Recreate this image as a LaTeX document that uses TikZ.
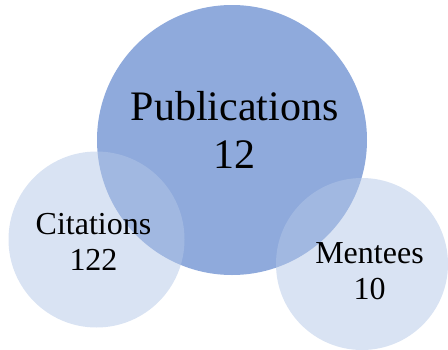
\documentclass[tikz,border=0pt]{standalone}
\usepackage{fontspec}
\setmainfont{Liberation Serif}
\usepackage{xcolor}
\usepackage{tikz}
\usetikzlibrary{positioning}
\definecolor{pubblue}{RGB}{143,170,220}
\definecolor{paleblue}{RGB}{180,199,231}
\tikzstyle{bubble}=[circle, draw=none, inner sep=0pt]
\tikzstyle{bigtext}=[align=center, inner sep=0pt, text=black,
        font=\fontsize{42}{48}\selectfont]
\tikzstyle{smalltext}=[align=center, inner sep=0pt, text=black,
        font=\fontsize{32}{36}\selectfont]

\begin{document}
\begin{tikzpicture}[x=1pt, y=-1pt]
      \useasboundingbox (0,0) rectangle (448,349);
      \node (Publications) [bubble, fill=pubblue, minimum size=270pt] at (232,140) {};
      \node (Citations) [bubble, fill=paleblue, fill opacity=0.5, minimum size=176pt] at (96.5,239.5) {};
      \node (Mentees) [bubble, fill=paleblue, fill opacity=0.5, minimum size=172pt] at (362,264) {};
      \node (PublicationsText) [bigtext] at ([xshift=2.5pt, yshift=10pt]Publications.center)
      {
        Publications \\ 12
      };
      \node (CitationsText) [smalltext] at ([xshift=-3pt, yshift=-2.5pt]Citations.center)
      {
        Citations \\ 122
      };
      \node (MenteesText) [smalltext] at ([xshift=7.5pt, yshift=-7pt]Mentees.center)
      {
        Mentees \\ 10
      };
    \end{tikzpicture}
\end{document}
